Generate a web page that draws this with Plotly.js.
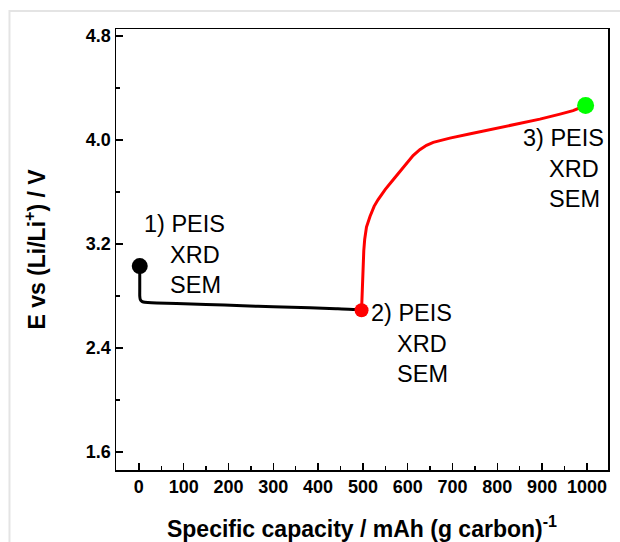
<!DOCTYPE html>
<html>
<head>
<meta charset="utf-8">
<script src="https://cdn.plot.ly/plotly-3.0.1.min.js"></script>
<style>
  html, body { margin: 0; padding: 0; background: #fff; }
  #chart { width: 620px; height: 542px; }
</style>
</head>
<body>
<div id="chart"></div>
<script>
// Discharge segment (black)
const dischargeCap = [2, 2, 2, 2, 3, 6, 10, 20, 40, 84, 150, 232, 300, 382, 440, 486, 497];
const dischargeV   = [3.03, 2.95, 2.85, 2.80, 2.775, 2.76, 2.753, 2.749, 2.745, 2.742, 2.735, 2.724, 2.716, 2.709, 2.702, 2.695, 2.69];

// Charge segment (red)
const chargeCap = [497, 498, 499, 500, 502, 504, 508, 516, 525, 534, 550, 568, 583, 597, 612, 627, 642, 657, 675, 694, 740, 783, 840, 895, 940, 969, 997];
const chargeV   = [2.69, 2.80, 2.95, 3.05, 3.15, 3.236, 3.33, 3.414, 3.49, 3.542, 3.62, 3.696, 3.76, 3.824, 3.88, 3.926, 3.96, 3.982, 4.0, 4.015, 4.048, 4.079, 4.12, 4.161, 4.2, 4.227, 4.266];

// Measurement points
const pointCap    = [2, 497, 997];
const pointV      = [3.03, 2.69, 4.266];
const pointLabels = ["1) PEIS", "2) PEIS", "3) PEIS"];
const pointExtra  = ["XRD", "SEM"];

// Tick values
const xTicks = [0, 100, 200, 300, 400, 500, 600, 700, 800, 900, 1000];
const yTicks = [1.6, 2.4, 3.2, 4.0, 4.8];

const FONT = "Liberation Sans, Arial, sans-serif";
const NB = "\u00A0";

const traces = [
  { x: dischargeCap, y: dischargeV, mode: "lines", line: { color: "#000000", width: 3, shape: "spline", smoothing: 0.4 }, hoverinfo: "skip" },
  { x: chargeCap, y: chargeV, mode: "lines", line: { color: "#ff0000", width: 3 }, hoverinfo: "skip" },
  { x: pointCap, y: pointV, mode: "markers",
    marker: { color: ["#000000", "#ff0000", "#00ff00"], size: [16, 14, 17], opacity: 1, line: { width: 0 } }, hoverinfo: "skip" }
];

const indent = NB + NB + NB + NB;
const annText = pointLabels.map(l => l + "<br>" + pointExtra.map(e => indent + e).join("<br>"));

const annPos = [
  { x: 8, y: 3.47 },
  { x: 514, y: 2.785 },
  { x: 852, y: 4.135 }
];

const annotations = annPos.map((p, i) => ({
  x: p.x, y: p.y, xref: "x", yref: "y", text: annText[i],
  showarrow: false, xanchor: "left", yanchor: "top", align: "left",
  font: { family: FONT, size: 23.5, color: "#000" }
}));

const layout = {
  width: 620, height: 542,
  margin: { l: 116, r: 12, t: 29, b: 72 },
  paper_bgcolor: "#ffffff", plot_bgcolor: "#ffffff",
  showlegend: false,
  font: { family: FONT, color: "#000" },
  xaxis: {
    range: [-51, 1047], tickvals: xTicks, ticktext: xTicks.map(String),
    ticks: "inside", ticklen: 7, tickwidth: 1.5, tickcolor: "#000",
    minor: { dtick: 50, tick0: 0, ticks: "inside", ticklen: 4, tickwidth: 1.5, tickcolor: "#000" },
    showline: true, linecolor: "#000", linewidth: 1.5, mirror: true,
    showgrid: false, zeroline: false,
    tickfont: { family: FONT, size: 18, weight: "bold", color: "#000" },
    title: { text: "Specific capacity / mAh (g carbon)<sup>-1</sup>", standoff: 25,
             font: { family: FONT, size: 23, weight: "bold", color: "#000" } }
  },
  yaxis: {
    range: [1.46, 4.855], tickvals: yTicks, ticktext: yTicks.map(v => v.toFixed(1)),
    ticks: "inside", ticklen: 7, tickwidth: 1.5, tickcolor: "#000",
    minor: { dtick: 0.4, tick0: 1.6, ticks: "inside", ticklen: 4, tickwidth: 1.5, tickcolor: "#000" },
    showline: true, linecolor: "#000", linewidth: 1.5, mirror: true,
    showgrid: false, zeroline: false,
    tickfont: { family: FONT, size: 18, weight: "bold", color: "#000" },
    title: { text: "E vs (Li/Li<sup>+</sup>) / V", standoff: 34,
             font: { family: FONT, size: 23, weight: "bold", color: "#000" } }
  },
  annotations: annotations,
  shapes: [
    { type: "path", xref: "paper", yref: "paper",
      path: "M -0.2165 -0.2 L -0.2165 1.0408 L 1.1 1.0408",
      line: { color: "#e4e4e4", width: 2 }, layer: "below" }
  ]
};

Plotly.newPlot("chart", traces, layout, { displayModeBar: false, staticPlot: true });
</script>
</body>
</html>
